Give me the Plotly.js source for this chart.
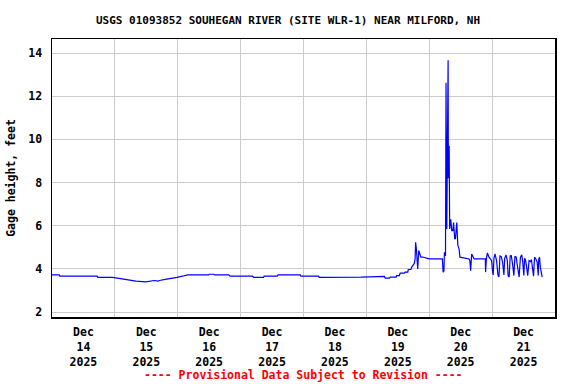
<!DOCTYPE html>
<html>
<head>
<meta charset="utf-8">
<script src="https://cdn.plot.ly/plotly-3.0.1.min.js"></script>
<style>html,body{margin:0;padding:0;background:#fff;}#chart{width:576px;height:384px;}</style>
</head>
<body>
<div id="chart"></div>
<script>
const times = [
"2025-12-14 00:00","2025-12-14 02:45","2025-12-14 03:00","2025-12-14 17:15","2025-12-14 17:30","2025-12-14 23:00",
"2025-12-15 01:00","2025-12-15 03:30","2025-12-15 06:45","2025-12-15 08:00","2025-12-15 11:45","2025-12-15 14:15",
"2025-12-15 15:00","2025-12-15 16:30","2025-12-15 17:00","2025-12-15 19:15","2025-12-15 21:15","2025-12-15 23:45",
"2025-12-16 01:45","2025-12-16 03:45","2025-12-16 11:45","2025-12-16 12:00","2025-12-16 13:45","2025-12-16 14:00",
"2025-12-16 19:30","2025-12-16 20:00","2025-12-17 04:30","2025-12-17 05:00","2025-12-17 08:45","2025-12-17 09:00",
"2025-12-17 14:00","2025-12-17 14:15","2025-12-17 22:45","2025-12-17 23:00","2025-12-18 05:45","2025-12-18 06:00",
"2025-12-18 22:06",
"2025-12-19 04:24","2025-12-19 04:42","2025-12-19 06:54","2025-12-19 07:12","2025-12-19 08:48","2025-12-19 09:06",
"2025-12-19 11:24","2025-12-19 11:36","2025-12-19 12:36","2025-12-19 12:54","2025-12-19 14:30","2025-12-19 14:48",
"2025-12-19 15:48","2025-12-19 16:00","2025-12-19 17:00","2025-12-19 17:18","2025-12-19 17:48","2025-12-19 18:18",
"2025-12-19 18:36","2025-12-19 18:48","2025-12-19 19:06","2025-12-19 19:36","2025-12-19 20:00","2025-12-19 20:18",
"2025-12-19 20:48","2025-12-19 21:30",
"2025-12-20 00:00","2025-12-20 05:00","2025-12-20 05:18","2025-12-20 05:36","2025-12-20 05:48","2025-12-20 06:12",
"2025-12-20 06:24","2025-12-20 06:42","2025-12-20 06:48","2025-12-20 06:54","2025-12-20 07:12","2025-12-20 07:18",
"2025-12-20 07:36","2025-12-20 07:48","2025-12-20 08:12","2025-12-20 08:36","2025-12-20 09:00","2025-12-20 09:18",
"2025-12-20 09:42","2025-12-20 10:00","2025-12-20 10:12","2025-12-20 10:30","2025-12-20 10:54","2025-12-20 11:24",
"2025-12-20 11:42","2025-12-20 15:12","2025-12-20 15:30","2025-12-20 15:48","2025-12-20 16:12","2025-12-20 16:42",
"2025-12-20 17:06","2025-12-20 21:24","2025-12-20 21:30","2025-12-20 21:48","2025-12-20 22:12","2025-12-20 22:48",
"2025-12-20 23:24","2025-12-20 23:48",
"2025-12-21 00:12","2025-12-21 00:24","2025-12-21 00:42","2025-12-21 01:06","2025-12-21 01:42","2025-12-21 02:12",
"2025-12-21 02:36","2025-12-21 03:00","2025-12-21 03:30","2025-12-21 04:00","2025-12-21 04:30","2025-12-21 04:48",
"2025-12-21 05:18","2025-12-21 05:48","2025-12-21 06:06","2025-12-21 06:30","2025-12-21 06:54","2025-12-21 07:18",
"2025-12-21 07:48","2025-12-21 08:18","2025-12-21 08:42","2025-12-21 09:12","2025-12-21 09:36","2025-12-21 10:00",
"2025-12-21 10:18","2025-12-21 10:48","2025-12-21 11:18","2025-12-21 11:42","2025-12-21 12:06","2025-12-21 12:24",
"2025-12-21 12:42","2025-12-21 13:06","2025-12-21 13:36","2025-12-21 14:06","2025-12-21 14:36","2025-12-21 15:00",
"2025-12-21 15:24","2025-12-21 15:48","2025-12-21 16:12","2025-12-21 16:42","2025-12-21 17:12","2025-12-21 17:36",
"2025-12-21 17:48","2025-12-21 18:06","2025-12-21 18:24","2025-12-21 18:48","2025-12-21 19:06"
];
const gageHeight = [
3.72,3.72,3.66,3.66,3.61,3.61,
3.57,3.51,3.46,3.43,3.40,3.43,
3.46,3.43,3.46,3.51,3.57,3.61,
3.66,3.72,3.72,3.75,3.75,3.72,
3.72,3.66,3.66,3.61,3.61,3.66,
3.66,3.72,3.72,3.66,3.66,3.61,
3.62,
3.62,3.65,3.65,3.57,3.57,3.62,
3.62,3.69,3.69,3.80,3.80,3.85,
3.85,3.97,3.97,4.08,4.18,4.25,
4.46,5.23,4.90,4.00,4.85,4.70,
4.54,4.55,
4.46,4.46,3.85,3.90,4.77,4.60,
12.62,5.85,9.10,8.50,13.66,8.20,
9.70,5.85,6.30,5.77,5.77,6.15,
5.40,5.40,5.90,6.15,5.10,4.92,
4.54,4.46,4.38,3.92,4.69,4.55,
4.46,4.46,3.85,4.46,4.74,4.54,
4.46,4.38,
3.85,3.72,4.49,4.69,4.38,3.72,
3.62,4.60,4.57,4.31,3.72,4.49,
4.65,4.38,3.69,3.62,4.60,4.62,
4.23,3.69,4.58,4.54,4.18,3.69,
3.62,4.54,4.65,4.31,3.69,4.49,
4.43,4.15,3.69,4.38,4.34,4.43,
3.85,3.66,4.54,4.46,4.31,3.69,
4.46,4.54,4.08,3.85,3.62
];
const chartTitle = "USGS 01093852 SOUHEGAN RIVER (SITE WLR-1) NEAR MILFORD, NH";
const yLabel = "Gage height, feet";
const footnote = "---- Provisional Data Subject to Revision ----";

const FONT = "DejaVu Sans Mono, Liberation Mono, monospace";

const trace = {
  x: times, y: gageHeight, type: "scatter", mode: "lines",
  line: {color: "#0000ff", width: 1.2, shape: "linear"},
  hoverinfo: "skip"
};

const layout = {
  width: 576, height: 384,
  margin: {l: 52, r: 21, t: 39, b: 67, pad: 0},
  paper_bgcolor: "#ffffff", plot_bgcolor: "#ffffff",
  showlegend: false,
  font: {family: FONT, size: 11.5, color: "#000000", weight: "bold"},
  title: {
    text: "<b>" + chartTitle + "</b>",
    font: {family: FONT, size: 11, color: "#000000"},
    x: 0.5, xref: "container", y: 1 - 20/384, yref: "container", yanchor: "middle"
  },
  xaxis: {
    type: "date",
    range: ["2025-12-14 00:00", "2025-12-22 00:00"],
    tick0: "2025-12-14", dtick: 86400000,
    ticklabelmode: "period",
    tickformat: "%b<br>%d<br>%Y",
    showgrid: true, gridcolor: "#cccccc", gridwidth: 1,
    showline: true, linecolor: "#000000", linewidth: 1.5, mirror: true,
    ticks: "outside", ticklen: 4, tickcolor: "rgba(0,0,0,0)",
    tickfont: {family: FONT, size: 11.5, color: "#000000", weight: "bold"},
    zeroline: false, fixedrange: true
  },
  yaxis: {
    range: [1.77, 14.65],
    tick0: 2, dtick: 2,
    showgrid: true, gridcolor: "#cccccc", gridwidth: 1,
    showline: true, linecolor: "#000000", linewidth: 1.5, mirror: true,
    ticks: "outside", ticklen: 6, tickcolor: "rgba(0,0,0,0)",
    tickfont: {family: FONT, size: 11.5, color: "#000000", weight: "bold"},
    title: {text: "<b>" + yLabel + "</b>", font: {family: FONT, size: 11.5, color: "#000000"}, standoff: 10},
    zeroline: false, fixedrange: true
  },
  annotations: [{
    text: "<b>" + footnote + "</b>",
    xref: "paper", yref: "paper", x: 0.5, y: -58/278,
    xanchor: "center", yanchor: "middle", showarrow: false,
    font: {family: FONT, size: 11.5, color: "#ff0000"}
  }]
};

Plotly.newPlot("chart", [trace], layout, {displayModeBar: false, staticPlot: true});
</script>
</body>
</html>
